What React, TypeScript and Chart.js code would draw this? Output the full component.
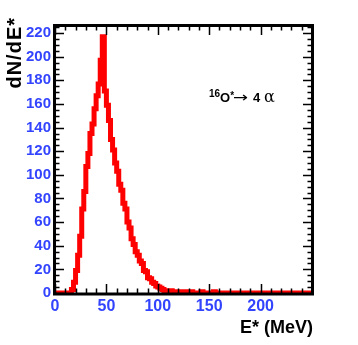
import React, { useEffect, useRef } from "react";
import { Chart, registerables } from "chart.js";

Chart.register(...registerables);

// Histogram: 2 MeV bins from 0 to 250 MeV
const BIN_WIDTH = 2;
const X_MIN = 0;
const X_MAX = 250;
const Y_MIN = 0;
const Y_MAX = 226;

const counts: number[] = [
  0, 0, 0, 0, 0, 0, 0, 0, 0, 3,
  9, 19, 32, 48, 71, 86, 107, 118, 135, 143,
  156, 167, 177, 197, 217, 171, 159, 146, 130, 121,
  110, 103, 92, 87, 76, 71, 60, 55, 46, 41,
  35, 32, 27, 25, 19, 18, 13, 12, 9, 8,
  6, 5, 4, 3, 2, 2, 1, 2, 1, 1,
  0, 1, 0, 1, 1, 0, 0, 1, 0, 0,
  0, 0, 1, 0, 0, 0, 0, 0, 1, 0,
  0, 0, 0, 0, 0, 0, 0, 0, 0, 0,
  0, 0, 0, 0, 0, 0, 0, 0, 0, 0,
  0, 0, 0, 0, 0, 0, 0, 0, 0, 0,
  0, 0, 0, 0, 0, 0, 0, 0, 0, 0,
  0, 0, 0, 0, 0,
];

const X_TITLE = "E* (MeV)";
const Y_TITLE = "dN/dE*";

const BLUE = "#3344ff";
const RED = "#ff0000";
const FONT = "'Liberation Sans', Arial, Helvetica, sans-serif";

const rootStyle = {
  id: "rootStyle",
  afterDraw(chart: any) {
    const { ctx, chartArea: a, scales } = chart;
    const x = scales.x;
    const y = scales.y;
    ctx.save();
    // inward ticks on all four sides
    ctx.strokeStyle = "#000";
    ctx.lineWidth = 1.5;
    ctx.beginPath();
    for (let v = X_MIN; v <= X_MAX; v += 10) {
      const px = Math.round(x.getPixelForValue(v)) + 0.5;
      const len = v % 50 === 0 ? 9 : 4.5;
      ctx.moveTo(px, a.bottom);
      ctx.lineTo(px, a.bottom - len);
      ctx.moveTo(px, a.top);
      ctx.lineTo(px, a.top + len);
    }
    for (let v = Y_MIN; v <= Y_MAX; v += 5) {
      const py = Math.round(y.getPixelForValue(v)) + 0.5;
      const len = v % 20 === 0 ? 9 : 4.5;
      ctx.moveTo(a.left, py);
      ctx.lineTo(a.left + len, py);
      ctx.moveTo(a.right, py);
      ctx.lineTo(a.right - len, py);
    }
    ctx.stroke();
    // frame
    ctx.lineWidth = 3;
    ctx.strokeRect(a.left - 0.5, a.top - 0.5, a.right - a.left + 1, a.bottom - a.top + 1.5);

    // axis titles
    ctx.fillStyle = "#000";
    ctx.font = `bold 18px ${FONT}`;
    ctx.textAlign = "right";
    ctx.textBaseline = "alphabetic";
    ctx.fillText(X_TITLE, a.right + 1, 333);

    ctx.save();
    ctx.translate(21, 17);
    ctx.rotate(-Math.PI / 2);
    ctx.font = `bold 20px ${FONT}`;
    (ctx as any).letterSpacing = "1px";
    ctx.textAlign = "right";
    ctx.fillText(Y_TITLE, 0, 0);
    ctx.restore();

    // annotation: 16O* -> 4 alpha
    let cx = 209;
    const base = 102;
    ctx.textAlign = "left";
    ctx.font = `bold 10px ${FONT}`;
    ctx.fillText("16", cx, base - 5);
    cx += ctx.measureText("16").width;
    ctx.font = `bold 13px ${FONT}`;
    ctx.fillText("O", cx, base);
    cx += ctx.measureText("O").width;
    ctx.font = `bold 10px ${FONT}`;
    ctx.fillText("*", cx, base - 3);

    ctx.save();
    ctx.font = `14px 'DejaVu Sans', sans-serif`;
    const aw = ctx.measureText("\u2192").width;
    ctx.translate(233, base);
    ctx.scale(15 / aw, 1);
    ctx.fillText("\u2192", 0, 0);
    ctx.restore();

    ctx.font = `bold 13px ${FONT}`;
    ctx.fillText("4", 253, base);
    ctx.font = `16px 'DejaVu Serif', serif`;
    ctx.fillText("\u03b1", 264, base);
    ctx.restore();
  },
};

export default function App() {
  const ref = useRef<HTMLCanvasElement>(null);
  useEffect(() => {
    if (!ref.current) return;
    const points = counts.map((c, i) => ({ x: X_MIN + i * BIN_WIDTH, y: c }));
    points.push({ x: X_MAX, y: counts[counts.length - 1] });
    const chart = new Chart(ref.current, {
      type: "line",
      data: {
        datasets: [
          {
            data: points,
            borderColor: RED,
            borderWidth: 5,
            pointRadius: 0,
            stepped: "after",
            fill: false,
          },
        ],
      },
      options: {
        animation: false,
        responsive: false,
        devicePixelRatio: 1,
        layout: { padding: { top: 26, right: 46, left: 0, bottom: 0 } },
        plugins: { legend: { display: false }, tooltip: { enabled: false } },
        scales: {
          x: {
            type: "linear",
            min: X_MIN,
            max: X_MAX,
            grid: { display: false, drawTicks: false },
            border: { display: false },
            ticks: {
              stepSize: 50,
              padding: 4,
              color: BLUE,
              font: { family: FONT, size: 16, weight: "bold" },
              maxRotation: 0,
              callback: (v: any) => (v >= X_MAX ? "" : String(v)),
            },
            afterFit: (s: any) => {
              s.height = 52;
            },
          },
          y: {
            type: "linear",
            min: Y_MIN,
            max: Y_MAX,
            grid: { display: false, drawTicks: false },
            border: { display: false },
            ticks: {
              stepSize: 20,
              includeBounds: false,
              padding: 4,
              color: BLUE,
              font: { family: FONT, size: 15, weight: "bold" },
            },
            afterFit: (s: any) => {
              s.width = 55;
            },
          },
        },
      },
      plugins: [rootStyle],
    });
    return () => chart.destroy();
  }, []);
  return (
    <div style={{ position: "absolute", left: 0, top: 0, width: 358, height: 345 }}>
      <canvas ref={ref} width={358} height={345} />
    </div>
  );
}
